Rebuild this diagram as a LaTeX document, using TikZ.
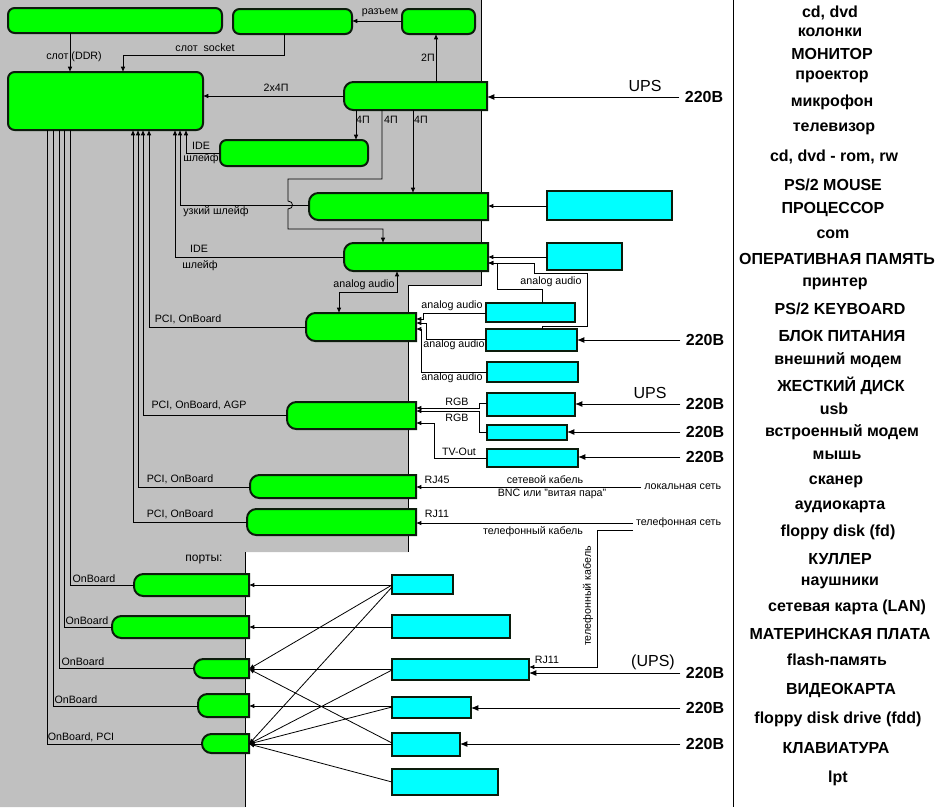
\documentclass[tikz,border=0pt]{standalone}
\usepackage{fontspec}
\setmainfont{Liberation Sans}
\usetikzlibrary{arrows.meta}
\definecolor{bgc}{RGB}{192,192,192}
\definecolor{grn}{RGB}{0,255,0}
\definecolor{cyn}{RGB}{0,255,255}
\definecolor{bord}{RGB}{12,28,12}
\newcommand\GF[5]{\node[gfull,anchor=north west,minimum width={(#4-#2)*0.75pt},minimum height={(#5-#3)*0.75pt}] (#1) at (#2,#3) {};}
\newcommand\GD[5]{\node[ghost,anchor=north west,minimum width={(#4-#2)*0.75pt},minimum height={(#5-#3)*0.75pt}] (#1) at (#2,#3) {};
  \draw[gline] (#1.north east) [rounded corners=7pt] -- (#1.north west) -- (#1.south west) [sharp corners] -- (#1.south east) -- cycle;}
\newcommand\CB[5]{\node[cbox,anchor=north west,minimum width={(#4-#2)*0.75pt},minimum height={(#5-#3)*0.75pt}] (#1) at (#2,#3) {};}
\newcommand\LI[4]{\node[listitem] (#1) at (#2,#3) {#4};}
\begin{document}
\begin{tikzpicture}[x=0.75pt,y=-0.75pt,
 conn/.style={line width=0.6pt,draw=black},
 arr/.style={conn,-{Latex[length=4pt,width=3.4pt]}},
 arrb/.style={conn,{Latex[length=4pt,width=3.4pt]}-{Latex[length=4pt,width=3.4pt]}},
 parr/.style={line width=0.75pt,-{Latex[length=5.5pt,width=4.5pt]}},
 lbl/.style={font=\fontsize{8}{9}\selectfont,inner sep=0pt},
 bigtxt/.style={font=\fontsize{12}{14}\selectfont\bfseries,inner xsep=4pt,inner ysep=0pt},
 upstxt/.style={font=\fontsize{12}{14}\selectfont,inner sep=0pt},
 listitem/.style={font=\fontsize{12}{14}\selectfont\bfseries,inner sep=0pt},
 gfull/.style={draw=bord,line width=1.5pt,fill=grn,rounded corners=5pt,inner sep=0pt,outer sep=0pt},
 ghost/.style={inner sep=0pt,outer sep=0pt},
 gline/.style={draw=bord,line width=1.5pt,fill=grn},
 cbox/.style={draw=bord,line width=1.6pt,fill=cyn,inner sep=0pt,outer sep=0pt}]

\fill[white] (0,0) rectangle (941,807);
\useasboundingbox (0,0) rectangle (941,807);
\fill[bgc] (0,0) -- (481,0) -- (481,285) -- (408,285) -- (408,552) -- (245,552) -- (245,807) -- (0,807) -- cycle;
\draw[conn] (481,0) -- (481,285) -- (408,285) -- (408,552);
\draw[conn] (245,552) -- (245,807);
\draw[conn] (733,0) -- (733,807);

% green boxes
\GF{ram}{8}{8}{222}{33}
\GF{cpu}{233}{9}{352}{34}
\GF{cool}{402}{9}{475}{34}
\GF{mb}{8}{72}{203}{130}
\GF{hdd}{220}{140}{368}{166}
\GD{psu}{344}{82}{487}{110}
\GD{fdd}{309}{193}{488}{220}
\GD{cd}{344}{243}{488}{271}
\GD{aud}{306}{313}{416}{341}
\GD{vid}{287}{402}{416}{429}
\GD{lan}{250}{475}{416}{498}
\GD{mdm}{247}{509}{416}{535}
\GD{pa}{134}{574}{249}{596}
\GD{pb}{112}{616}{249}{638}
\GD{pc}{194}{659}{249}{678}
\GD{pd}{198}{694}{249}{717}
\GD{pe}{202}{734}{249}{753}

% cyan boxes
\CB{fddd}{547}{191}{672}{220}
\CB{cdd}{547}{243}{622}{270}
\CB{mic}{486}{303}{575}{322}
\CB{spk}{486}{329}{577}{351}
\CB{hph}{487}{362}{578}{382}
\CB{mon}{487}{393}{575}{416}
\CB{proj}{487}{425}{567}{440}
\CB{tv}{487}{449}{578}{467}
\CB{da}{392}{575}{453}{594}
\CB{db}{392}{615}{510}{638}
\CB{dc}{392}{659}{529}{680}
\CB{dd}{392}{697}{471}{718}
\CB{de}{392}{733}{460}{756}
\CB{df}{392}{769}{498}{795}

% top connectors
\draw[arr] (ram.south -| 70,0) -- (mb.north -| 70,0);
\node[lbl] (t1) at (74,57) {слот (DDR)};
\draw[arr] (cpu.south -| 284,0) -- (284,55) -| (mb.north -| 123,0);
\node[lbl] (t2) at (205,48) {слот\ \ socket};
\draw[arr] (cool.west |- 0,21) -- (cpu.east |- 0,21);
\node[lbl] (t3) at (380,13) {разъем};
\draw[arr] (psu.north -| 436,0) -- (cool.south -| 436,0);
\node[lbl] (t4) at (428,58) {2П};
\draw[arr] (psu.west |- 0,96) -- (mb.east |- 0,96);
\node[lbl] (t5) at (276,88) {2х4П};
\node[upstxt] (u0) at (645,86) {UPS};
\node[bigtxt] (v0) at (704,97) {220В};
\draw[parr] (v0.west) -- (psu.east |- v0.west);

% PSU 4P lines
\draw[arr] (psu.south -| 356,0) -- (hdd.north -| 356,0);
\node[lbl] (t6) at (363,120) {4П};
\draw[arr] (psu.south -| 382,0) -- (382,179) -- (288,179) -- (288,201) .. controls (294,201) and (294,209) .. (288,209) -- (288,229) -- (383,229) -- (cd.north -| 383,0);
\node[lbl] (t7) at (391,120) {4П};
\draw[arr] (psu.south -| 413,0) -- (fdd.north -| 413,0);
\node[lbl] (t8) at (421,120) {4П};

% motherboard cables
\draw[arr] (hdd.west |- 0,153) -| (mb.south -| 186,0);
\node[lbl] (t9) at (201,146) {IDE};
\node[lbl] (t10) at (201,159) {шлейф};
\draw[arr] (fdd.west |- 0,205) -| (mb.south -| 180,0);
\node[lbl] (t11) at (216,212) {узкий шлейф};
\draw[arr] (cd.west |- 0,257) -| (mb.south -| 175,0);
\node[lbl] (t12) at (199,249) {IDE};
\node[lbl] (t13) at (200,266) {шлейф};
\draw[arr] (aud.west |- 0,327) -| (mb.south -| 149,0);
\node[lbl] (t14) at (188,319) {PCI, OnBoard};
\draw[arr] (vid.west |- 0,415) -| (mb.south -| 143,0);
\node[lbl] (t15) at (199,405) {PCI, OnBoard, AGP};
\draw[arr] (lan.west |- 0,487) -| (mb.south -| 138,0);
\node[lbl] (t16) at (180,479) {PCI, OnBoard};
\draw[arr] (mdm.west |- 0,522) -| (mb.south -| 133,0);
\node[lbl] (t17) at (180,514) {PCI, OnBoard};
\draw[conn] (pa.west |- 0,585) -| (mb.south -| 70,0);
\node[lbl] (t18) at (94,579) {OnBoard};
\draw[conn] (pb.west |- 0,627) -| (mb.south -| 64,0);
\node[lbl] (t19) at (87,621) {OnBoard};
\draw[conn] (pc.west |- 0,668) -| (mb.south -| 59,0);
\node[lbl] (t20) at (83,662) {OnBoard};
\draw[conn] (pd.west |- 0,706) -| (mb.south -| 53,0);
\node[lbl] (t21) at (76,700) {OnBoard};
\draw[conn] (pe.west |- 0,744) -| (mb.south -| 47,0);
\node[lbl] (t22) at (81,737) {OnBoard, PCI};
\node[lbl,font=\fontsize{9}{10}\selectfont] (t23) at (204,560) {порты:};

% audio
\draw[arrb] (cd.south -| 397,0) -- (397,292) -| (aud.north -| 339,0);
\node[lbl] (t24) at (364,285) {analog audio};
\draw[arr] (mic.west |- 0,313) -- (423,313) -- (423,319) -- (aud.east |- 0,319);
\node[lbl] (t25) at (452,306) {analog audio};
\draw[arr] (spk.west |- 0,339) -- (426,339) -- (426,323) -- (aud.east |- 0,323);
\node[lbl] (t26) at (454,345) {analog audio};
\draw[arr] (hph.west |- 0,372) -- (421,372) -- (421,329) -- (aud.east |- 0,329);
\node[lbl] (t27) at (452,378) {analog audio};
\draw[arr] (cdd.west |- 0,257) -- (cd.east |- 0,257);
\draw[arr] (mic.north -| 542,0) -- (542,289) -- (497,289) -- (497,263) -- (cd.east |- 0,263);
\draw[arr] (spk.north -| 542,0) -- (542,326) -- (587,326) -- (587,273) -- (534,273) -- (534,263) -- (cd.east |- 0,263);
\node[lbl] (t28) at (551,282) {analog audio};
\draw[arr] (fddd.west |- 0,206) -- (fdd.east |- 0,206);

% video
\draw[arr] (mon.west |- 0,403) -- (479,403) -- (479,408) -- (vid.east |- 0,408);
\node[lbl] (t29) at (457,402) {RGB};
\draw[arr] (proj.west |- 0,432) -- (479,432) -- (479,411) -- (vid.east |- 0,411);
\node[lbl] (t30) at (457,418) {RGB};
\draw[arr] (tv.west |- 0,458) -- (434,458) -- (434,423) -- (vid.east |- 0,423);
\node[lbl] (t31) at (459,452) {TV-Out};

% power
\node[bigtxt] (v1) at (705,340) {220В};
\draw[parr] (v1.west) -- (spk.east |- v1.west);
\node[upstxt] (u1) at (650,393) {UPS};
\node[bigtxt] (v2) at (705,404) {220В};
\draw[parr] (v2.west) -- (mon.east |- v2.west);
\node[bigtxt] (v3) at (705,432) {220В};
\draw[parr] (v3.west) -- (proj.east |- v3.west);
\node[bigtxt] (v4) at (705,457) {220В};
\draw[parr] (v4.west) -- (tv.east |- v4.west);
\node[upstxt] (u2) at (653,662) {(UPS)};
\node[bigtxt] (v5) at (705,673) {220В};
\draw[parr] (v5.west) -- (dc.east |- v5.west);
\node[bigtxt] (v6) at (705,708) {220В};
\draw[parr] (v6.west) -- (dd.east |- v6.west);
\node[bigtxt] (v7) at (705,744) {220В};
\draw[parr] (v7.west) -- (de.east |- v7.west);

% network
\node[lbl,anchor=east,inner xsep=2pt] (lnet) at (724,487) {локальная сеть};
\draw[arr] (lnet.west) -- (lan.east |- lnet.west);
\node[lbl] (t32) at (437,480) {RJ45};
\node[lbl] (t33) at (545,480) {сетевой кабель};
\node[lbl] (t34) at (552,494) {BNC или "витая пара"};
\node[lbl,anchor=east,inner xsep=2pt] (tnet) at (724,523) {телефонная сеть};
\draw[arr] (tnet.west) -- (mdm.east |- tnet.west);
\node[lbl] (t35) at (437,514) {RJ11};
\node[lbl] (t36) at (533,532) {телефонный кабель};
\draw[arr] (tnet.west |- 0,530) -- (597,530) -- (597,667) -- (dc.east |- 0,667);
\node[lbl,rotate=90] (t37) at (588,596) {телефонный кабель};
\node[lbl] (t38) at (547,660) {RJ11};

% ports
\draw[arr] (da.west |- 0,585) -- (pa.east |- 0,585);
\draw[arr] (db.west |- 0,627) -- (pb.east |- 0,627);
\draw[arr] (dc.west |- 0,669) -- (pc.east |- 0,669);
\draw[arr] (dd.west |- 0,706) -- (pd.east |- 0,706);
\draw[arr] (de.west |- 0,744) -- (pe.east |- 0,744);
\draw[arr] (da.west |- 0,585) -- (pc.east |- 0,669);
\draw[arr] (da.west |- 0,587) -- (pe.east |- 0,744);
\draw[arr] (dc.west |- 0,670) -- (pe.east |- 0,744);
\draw[arr] (dd.west |- 0,707) -- (pe.east |- 0,744);
\draw[arr] (de.west |- 0,743) -- (pc.east |- 0,669);
\draw[arr] (df.west |- 0,782) -- (pe.east |- 0,744);

% list
\LI{li1}{830}{13}{cd, dvd}
\LI{li2}{830}{32}{колонки}
\LI{li3}{832}{54}{МОНИТОР}
\LI{li4}{832}{77}{проектор}
\LI{li5}{832}{102}{микрофон}
\LI{li6}{834}{129}{телевизор}
\LI{li7}{834}{157}{cd, dvd - rom, rw}
\LI{li8}{833}{185}{PS/2 MOUSE}
\LI{li9}{833}{210}{ПРОЦЕССОР}
\LI{li10}{833}{234}{com}
\LI{li11}{837}{259}{ОПЕРАТИВНАЯ ПАМЯТЬ}
\LI{li12}{835}{284}{принтер}
\LI{li13}{840}{309}{PS/2 KEYBOARD}
\LI{li14}{842}{336}{БЛОК ПИТАНИЯ}
\LI{li15}{838}{360}{внешний модем}
\LI{li16}{841}{386}{ЖЕСТКИЙ ДИСК}
\LI{li17}{834}{409}{usb}
\LI{li18}{842}{432}{встроенный модем}
\LI{li19}{837}{455}{мышь}
\LI{li20}{836}{482}{сканер}
\LI{li21}{840}{507}{аудиокарта}
\LI{li22}{838}{532}{floppy disk (fd)}
\LI{li23}{840}{559}{КУЛЛЕР}
\LI{li24}{840}{583}{наушники}
\LI{li25}{847}{607}{сетевая карта (LAN)}
\LI{li26}{840}{634}{МАТЕРИНСКАЯ ПЛАТА}
\LI{li27}{837}{660}{flash-память}
\LI{li28}{841}{690}{ВИДЕОКАРТА}
\LI{li29}{838}{719}{floppy disk drive (fdd)}
\LI{li30}{836}{748}{КЛАВИАТУРА}
\LI{li31}{838}{778}{lpt}
\end{tikzpicture}
\end{document}
